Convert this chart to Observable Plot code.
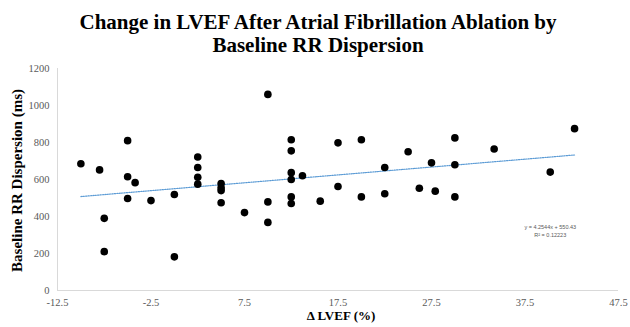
<!DOCTYPE html>
<html>
<head>
<meta charset="utf-8">
<script src="https://cdn.jsdelivr.net/npm/d3@7"></script>
<script src="https://cdn.jsdelivr.net/npm/@observablehq/plot@0.6"></script>
</head>
<body style="margin:0;padding:0;background:#fff">
<div style="width:630px;height:327px;position:relative;overflow:hidden;background:#fff">
  <div style="font-family:'Liberation Serif';font-weight:bold;font-size:21px;line-height:23px;text-align:center;color:#000;width:630px;padding:11px 0 0 6px;box-sizing:border-box;height:60px">Change in LVEF After Atrial Fibrillation Ablation by<br>Baseline RR Dispersion</div>
  <div id="chart"></div>
</div>
<script>
// Δ LVEF (%) values
const deltaLVEF = [
  -10, -8, -7.5, -7.5, -5, -5, -5, -4.2, -2.5, 0, 0,
  2.5, 2.5, 2.5, 2.5, 5, 5, 5, 5, 7.5, 10, 10, 10,
  12.5, 12.5, 12.5, 12.5, 12.5, 12.5, 13.7, 15.6,
  17.5, 17.5, 20, 20, 22.5, 22.5, 25, 26.2, 27.5, 27.9,
  30, 30, 30, 34.2, 40.2, 42.8
];
// Baseline RR dispersion (ms)
const rrDispersion = [
  685, 652, 390, 210, 810, 615, 497, 583, 486, 519, 182,
  722, 665, 612, 575, 578, 555, 540, 474, 421, 1060, 479, 368,
  815, 755, 637, 600, 506, 470, 620, 483,
  798, 562, 815, 506, 665, 523, 750, 553, 690, 537,
  825, 680, 506, 765, 640, 875
];
const xTicks = [-12.5, -2.5, 7.5, 17.5, 27.5, 37.5, 47.5];
const yTicks = [0, 200, 400, 600, 800, 1000, 1200];
const slope = 4.2544;
const intercept = 550.43;
const eqLabel = "y = 4.2544x + 550.43\nR² = 0.12223";

const points = deltaLVEF.map((x, i) => ({x, y: rrDispersion[i]}));
const xMin = d3.min(deltaLVEF), xMax = d3.max(deltaLVEF);
const trend = [xMin, xMax].map(x => ({x, y: slope * x + intercept}));

const fmt = d => String(d);

const chart = Plot.plot({
  width: 630,
  height: 267,
  marginTop: 8,
  marginBottom: 37,
  marginLeft: 57,
  marginRight: 12,
  style: "font-family:'Liberation Serif', serif;background:#fff;overflow:visible",
  x: {domain: [-12.5, 47.5]},
  y: {domain: [0, 1200]},
  marks: [
    Plot.ruleX([-12.5], {stroke: "#d9d9d9", strokeWidth: 1}),
    Plot.ruleY([0], {stroke: "#d9d9d9", strokeWidth: 1}),
    Plot.axisX({ticks: xTicks, tickSize: 0, tickPadding: 8, fontSize: 10.5, fill: "#595959", label: null, tickFormat: fmt}),
    Plot.axisY({ticks: yTicks, tickSize: 0, tickPadding: 8, fontSize: 10.5, fill: "#595959", label: null, tickFormat: fmt}),
    Plot.line(trend, {x: "x", y: "y", stroke: "#5b9bd5", strokeWidth: 1.2, strokeDasharray: "1.2,1.2"}),
    Plot.dot(points, {x: "x", y: "y", r: 3.8, fill: "#000", stroke: "none"}),
    Plot.text([eqLabel], {x: 40.2, y: 326, fontSize: 5.5, fill: "#595959", fontFamily: "'Liberation Sans', sans-serif", lineHeight: 1.6, textAnchor: "middle", lineAnchor: "middle"}),
    Plot.text(["Baseline RR Dispersion (ms)"], {frameAnchor: "left", textAnchor: "middle", lineAnchor: "middle", rotate: -90, dx: -40, dy: 1, fontSize: 15, fontWeight: "bold", fill: "#000", fontFamily: "'Liberation Serif', serif"}),
    Plot.text(["Δ LVEF (%)"], {frameAnchor: "bottom", textAnchor: "middle", lineAnchor: "middle", dx: 3, dy: 25, fontSize: 13, fontWeight: "bold", fill: "#000", fontFamily: "'Liberation Serif', serif"})
  ]
});
document.getElementById("chart").appendChild(chart);
</script>
</body>
</html>
